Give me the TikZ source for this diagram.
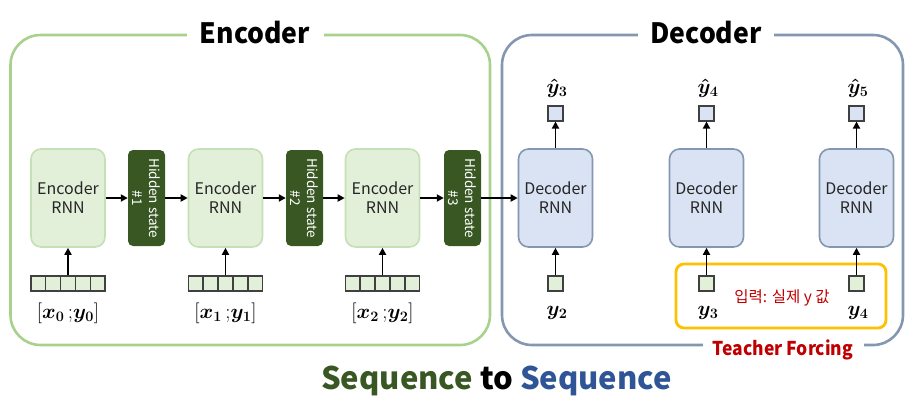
\documentclass[tikz,border=0pt]{standalone}
\usepackage{amsmath,bm}
\usepackage[no-math]{fontspec}
\setmainfont{Noto Sans CJK KR}
\usetikzlibrary{arrows.meta,calc}
\definecolor{encframe}{HTML}{A9D18E}
\definecolor{decframe}{HTML}{8497B0}
\definecolor{encfill}{HTML}{E2F0D9}
\definecolor{encborder}{HTML}{C5E0B4}
\definecolor{decfill}{HTML}{DAE3F3}
\definecolor{decborder}{HTML}{8497B0}
\definecolor{hidgreen}{HTML}{385723}
\definecolor{tforange}{HTML}{FFC000}
\definecolor{tfred}{HTML}{C00000}
\definecolor{seqgreen}{HTML}{385723}
\definecolor{seqblue}{HTML}{2F5597}
\definecolor{celldraw}{HTML}{404040}
\begin{document}
\begin{tikzpicture}[x=1pt,y=-1pt,
  frame/.style={draw, line width=2.6pt, rounded corners=30pt, inner sep=0pt},
  title/.style={fill=white, inner sep=0pt, minimum height=30pt, font=\bfseries\fontsize{28}{30}\selectfont},
  rnnbox/.style={line width=1.6pt, rounded corners=10pt, minimum width=74pt, minimum height=98pt, inner sep=0pt, align=center, font=\fontsize{16}{19}\selectfont, text=black!85},
  encbox/.style={rnnbox, draw=encborder, fill=encfill},
  decbox/.style={rnnbox, draw=decborder, fill=decfill},
  hidbox/.style={fill=hidgreen, rounded corners=5pt, rotate=-90, minimum width=96pt, minimum height=37pt, inner sep=0pt, align=center, text=white, font=\fontsize{13.5}{17}\selectfont},
  vecbox/.style={draw=celldraw, fill=encfill, line width=1.1pt, minimum width=74pt, minimum height=15pt, inner sep=0pt},
  inbox/.style={draw=celldraw, fill=encfill, line width=1.1pt, minimum width=15pt, minimum height=15pt, inner sep=0pt},
  outbox/.style={draw=celldraw, fill=decfill, line width=1.1pt, minimum width=15pt, minimum height=15pt, inner sep=0pt},
  mathlab/.style={inner sep=0pt, font=\fontsize{20.74}{22}\selectfont},
  ylab/.style={inner sep=0pt, font=\fontsize{20.74}{22}\selectfont},
  arr/.style={-{Triangle[length=7pt,width=7pt]}, line width=1.8pt}
]
\useasboundingbox (0,0) rectangle (918,410);

% frames
\node[frame, draw=encframe, minimum width=479.5pt, minimum height=310pt] (encf) at (250.25,190) {};
\node[frame, draw=decframe, minimum width=401pt, minimum height=310pt] (decf) at (702.5,190) {};
\node[title, minimum width=137pt] (enct) at (255,33) {\scalebox{0.95}[1]{Encoder}};
\node[title, minimum width=136pt] (dect) at (706,33) {\scalebox{0.95}[1]{Decoder}};
\node[fill=white, inner sep=0pt, minimum width=161pt, minimum height=20pt, text=tfred, font=\bfseries\fontsize{19}{22}\selectfont] (tfl) at (783,350) {\scalebox{0.92}[1]{Teacher Forcing}};

% teacher forcing box
\node[draw=tforange, line width=2.8pt, rounded corners=8pt, minimum width=210pt, minimum height=64pt, inner sep=0pt] (tf) at (781,296) {};
\node[inner sep=0pt, text=tfred, font=\fontsize{15.5}{18}\selectfont] (kr) at (782,298) {입력: 실제 y 값};

% encoder
\node[encbox] (e1) at (68,198) {Encoder\\RNN};
\node[encbox] (e2) at (225.5,198) {Encoder\\RNN};
\node[encbox] (e3) at (382.5,198) {Encoder\\RNN};
\node[hidbox] (h1) at (146.5,198) {Hidden state\\\#1};
\node[hidbox] (h2) at (304.5,198) {Hidden state\\\#2};
\node[hidbox] (h3) at (462.5,198) {Hidden state\\\#3};

% decoder
\node[decbox] (d1) at (555.5,198) {Decoder\\RNN};
\node[decbox] (d2) at (706.5,198) {Decoder\\RNN};
\node[decbox] (d3) at (856.5,198) {Decoder\\RNN};

% input vectors
\foreach \v/\x in {v1/68, v2/225.5, v3/382.5}{
  \node[vecbox] (\v) at (\x,283.5) {};
  \foreach \i in {1,...,4}{
    \draw[celldraw, line width=1.1pt] ($(\v.north west)!\i/5!(\v.north east)$) -- ($(\v.south west)!\i/5!(\v.south east)$);
  }
}
\node[inbox] (i1) at (555.5,283.5) {};
\node[inbox] (i2) at (706.5,283.5) {};
\node[inbox] (i3) at (856.5,283.5) {};
\node[outbox] (o1) at (555.5,113.5) {};
\node[outbox] (o2) at (706.5,113.5) {};
\node[outbox] (o3) at (856.5,113.5) {};

% labels
\node[mathlab] (l1) at (68,313) {$[\bm{x_0}\,;\!\bm{y_0}]$};
\node[mathlab] (l2) at (225.5,313) {$[\bm{x_1}\,;\!\bm{y_1}]$};
\node[mathlab] (l3) at (382.5,313) {$[\bm{x_2}\,;\!\bm{y_2}]$};
\node[ylab] (ly1) at (557,313) {$\bm{y_2}$};
\node[ylab] (ly2) at (708,313) {$\bm{y_3}$};
\node[ylab] (ly3) at (858,313) {$\bm{y_4}$};
\node[ylab] (hy1) at (557,88) {$\bm{\hat{y}_3}$};
\node[ylab] (hy2) at (708,88) {$\bm{\hat{y}_4}$};
\node[ylab] (hy3) at (858,88) {$\bm{\hat{y}_5}$};

% arrows
\draw[arr] (e1) -- (h1);
\draw[arr] (h1) -- (e2);
\draw[arr] (e2) -- (h2);
\draw[arr] (h2) -- (e3);
\draw[arr] (e3) -- (h3);
\draw[arr] (h3) -- (d1);
\draw[arr] (v1.north) -- (e1.south);
\draw[arr] (v2.north) -- (e2.south);
\draw[arr] (v3.north) -- (e3.south);
\draw[arr] (i1.north) -- (d1.south);
\draw[arr] (i2.north) -- (d2.south);
\draw[arr] (i3.north) -- (d3.south);
\draw[arr] (d1.north) -- (o1.south);
\draw[arr] (d2.north) -- (o2.south);
\draw[arr] (d3.north) -- (o3.south);

% bottom title
\node[inner sep=0pt, font=\bfseries\fontsize{31}{34}\selectfont] (seq) at (496.5,381) {{\color{seqgreen}Sequence} to {\color{seqblue}Sequence}};
\end{tikzpicture}
\end{document}
